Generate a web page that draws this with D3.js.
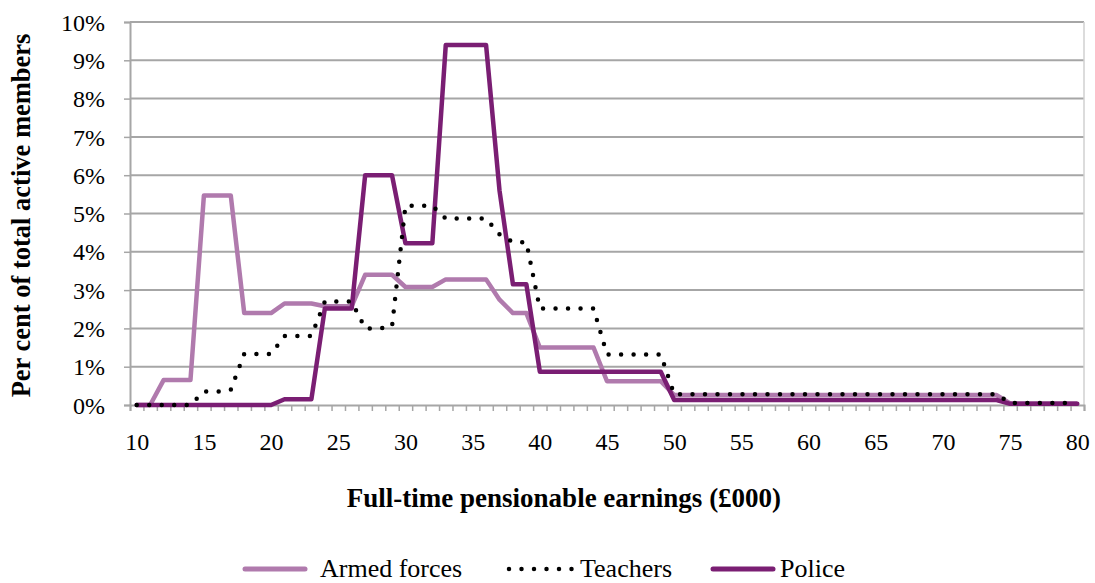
<!DOCTYPE html>
<html>
<head>
<meta charset="utf-8">
<script src="https://cdn.jsdelivr.net/npm/d3@7"></script>
<style>
  body { margin: 0; background: #fff; }
</style>
</head>
<body>
<div id="chart"></div>
<script>
// earnings bands (£000), one category per band
var earnings = [10, 11, 12, 13, 14, 15, 16, 17, 18, 19, 20, 21, 22, 23, 24, 25, 26, 27, 28, 29,
  30, 31, 32, 33, 34, 35, 36, 37, 38, 39, 40, 41, 42, 43, 44, 45, 46, 47, 48, 49,
  50, 51, 52, 53, 54, 55, 56, 57, 58, 59, 60, 61, 62, 63, 64, 65, 66, 67, 68, 69,
  70, 71, 72, 73, 74, 75, 76, 77, 78, 79, 80];

var xTickLabels = [10, 15, 20, 25, 30, 35, 40, 45, 50, 55, 60, 65, 70, 75, 80];
var yTickLabels = [0, 1, 2, 3, 4, 5, 6, 7, 8, 9, 10];

// per cent of total active members
var armedForces = [0, 0, 0.65, 0.65, 0.65, 5.47, 5.47, 5.47, 2.4, 2.4,
  2.4, 2.65, 2.65, 2.65, 2.58, 2.58, 2.58, 3.4, 3.4, 3.4,
  3.08, 3.08, 3.08, 3.28, 3.28, 3.28, 3.28, 2.75, 2.4, 2.4,
  1.5, 1.5, 1.5, 1.5, 1.5, 0.62, 0.62, 0.62, 0.62, 0.62,
  0.26, 0.26, 0.26, 0.26, 0.26, 0.26, 0.26, 0.26, 0.26, 0.26,
  0.26, 0.26, 0.26, 0.26, 0.26, 0.26, 0.26, 0.26, 0.26, 0.26,
  0.26, 0.26, 0.26, 0.26, 0.26, 0.04, 0.04, 0.04, 0.04, 0.04, 0.04];

var teachers = [0, 0, 0, 0, 0, 0.35, 0.35, 0.4, 1.33, 1.33,
  1.33, 1.8, 1.8, 1.8, 2.7, 2.7, 2.7, 2.0, 2.0, 2.05,
  5.2, 5.2, 5.2, 4.87, 4.87, 4.87, 4.87, 4.46, 4.25, 4.25,
  2.52, 2.52, 2.52, 2.52, 2.52, 1.32, 1.32, 1.32, 1.32, 1.32,
  0.28, 0.28, 0.28, 0.28, 0.28, 0.28, 0.28, 0.28, 0.28, 0.28,
  0.28, 0.28, 0.28, 0.28, 0.28, 0.28, 0.28, 0.28, 0.28, 0.28,
  0.28, 0.28, 0.28, 0.28, 0.28, 0.05, 0.05, 0.05, 0.05, 0.05, 0.05];

var police = [0, 0, 0, 0, 0, 0, 0, 0, 0, 0,
  0, 0.15, 0.15, 0.15, 2.52, 2.52, 2.52, 6.0, 6.0, 6.0,
  4.22, 4.22, 4.22, 9.4, 9.4, 9.4, 9.4, 5.6, 3.15, 3.15,
  0.87, 0.87, 0.87, 0.87, 0.87, 0.87, 0.87, 0.87, 0.87, 0.87,
  0.13, 0.13, 0.13, 0.13, 0.13, 0.13, 0.13, 0.13, 0.13, 0.13,
  0.13, 0.13, 0.13, 0.13, 0.13, 0.13, 0.13, 0.13, 0.13, 0.13,
  0.13, 0.13, 0.13, 0.13, 0.13, 0.03, 0.03, 0.03, 0.03, 0.03, 0.03];

var seriesNames = ["Armed forces", "Teachers", "Police"];

var width = 1095, height = 583;
var plotLeft = 130, plotRight = 1084, plotTop = 22, plotBottom = 405;
var gridColor = "#a6a6a6";
var serif = "'Liberation Serif', 'Times New Roman', 'DejaVu Serif', serif";

var svg = d3.select("#chart")
  .append("svg")
  .attr("width", width)
  .attr("height", height);

// category axis: points sit in the middle of each band
var x = d3.scaleLinear()
  .domain([earnings[0] - 0.5, earnings[earnings.length - 1] + 0.5])
  .range([plotLeft, plotRight]);

var y = d3.scaleLinear()
  .domain([0, 10])
  .range([plotBottom, plotTop]);

// gridlines
svg.append("g")
  .selectAll("line")
  .data(yTickLabels.slice(1))
  .enter().append("line")
  .attr("x1", plotLeft)
  .attr("x2", plotRight)
  .attr("y1", function(d) { return y(d); })
  .attr("y2", function(d) { return y(d); })
  .attr("stroke", gridColor)
  .attr("stroke-width", 2);

// right edge of plot area
svg.append("line")
  .attr("x1", plotRight).attr("x2", plotRight)
  .attr("y1", plotTop).attr("y2", plotBottom)
  .attr("stroke", "#d0d0d0")
  .attr("stroke-width", 1.5);

// y axis
var yAxis = svg.append("g")
  .attr("transform", "translate(" + plotLeft + ",0)")
  .call(d3.axisLeft(y)
    .tickValues(yTickLabels)
    .tickSize(6)
    .tickPadding(19)
    .tickFormat(function(d) { return d + "%"; }));
yAxis.selectAll("text")
  .style("font-family", serif)
  .style("font-size", "24px")
  .attr("dy", "0.34em");

// x axis: small tick at every band edge, labels every 5
var edges = earnings.map(function(d) { return d - 0.5; }).concat([earnings[earnings.length - 1] + 0.5]);
svg.append("g")
  .attr("transform", "translate(0," + plotBottom + ")")
  .call(d3.axisBottom(x)
    .tickValues(edges)
    .tickSize(6)
    .tickFormat(""));

var xLabels = svg.append("g")
  .attr("transform", "translate(0," + plotBottom + ")")
  .call(d3.axisBottom(x)
    .tickValues(xTickLabels)
    .tickSize(0)
    .tickPadding(28)
    .tickFormat(d3.format("d")));
xLabels.selectAll("text")
  .style("font-family", serif)
  .style("font-size", "24px");
xLabels.select(".domain").remove();

svg.selectAll(".domain").attr("stroke", gridColor).attr("stroke-width", 2);
svg.selectAll(".tick line").attr("stroke", gridColor).attr("stroke-width", 1.5);

// lines
var line = d3.line()
  .x(function(d, i) { return x(earnings[i]); })
  .y(function(d) { return y(d); });

var colors = ["#b07aad", "#000", "#7a1e73"];

svg.append("path")
  .datum(armedForces)
  .attr("d", line)
  .attr("fill", "none")
  .attr("stroke", colors[0])
  .attr("stroke-width", 4.5)
  .attr("stroke-linejoin", "round");

svg.append("path")
  .datum(police)
  .attr("d", line)
  .attr("fill", "none")
  .attr("stroke", colors[2])
  .attr("stroke-width", 4.5)
  .attr("stroke-linejoin", "round")
  .attr("stroke-linecap", "round");

svg.append("path")
  .datum(teachers)
  .attr("d", line)
  .attr("fill", "none")
  .attr("stroke", colors[1])
  .attr("stroke-width", 4.5)
  .attr("stroke-dasharray", "0,12.5")
  .attr("stroke-linecap", "round");

// axis titles
svg.append("text")
  .attr("transform", "translate(30," + ((plotTop + plotBottom) / 2 + 2) + ") rotate(-90)")
  .attr("text-anchor", "middle")
  .style("font-family", serif)
  .style("font-size", "26.5px")
  .style("font-weight", "bold")
  .text("Per cent of total active members");

svg.append("text")
  .attr("x", 564)
  .attr("y", 507)
  .attr("text-anchor", "middle")
  .style("font-family", serif)
  .style("font-size", "27px")
  .style("font-weight", "bold")
  .text("Full-time pensionable earnings (£000)");

// legend
var legendX = [245, 505, 713];
var legendTextX = [320, 580, 780];
var legendY = 569;
var legend = svg.append("g");
seriesNames.forEach(function(name, i) {
  var sx = legendX[i];
  if (i == 1) {
    legend.append("line")
      .attr("x1", sx + 4).attr("x2", sx + 67)
      .attr("y1", legendY).attr("y2", legendY)
      .attr("stroke", colors[i])
      .attr("stroke-width", 4.5)
      .attr("stroke-dasharray", "0,12.5")
      .attr("stroke-linecap", "round");
  } else {
    legend.append("line")
      .attr("x1", sx).attr("x2", sx + 60)
      .attr("y1", legendY).attr("y2", legendY)
      .attr("stroke", colors[i])
      .attr("stroke-width", 5)
      .attr("stroke-linecap", "round");
  }
  legend.append("text")
    .attr("x", legendTextX[i])
    .attr("y", legendY + 8)
    .style("font-family", serif)
    .style("font-size", "26px")
    .text(name);
});
</script>
</body>
</html>
